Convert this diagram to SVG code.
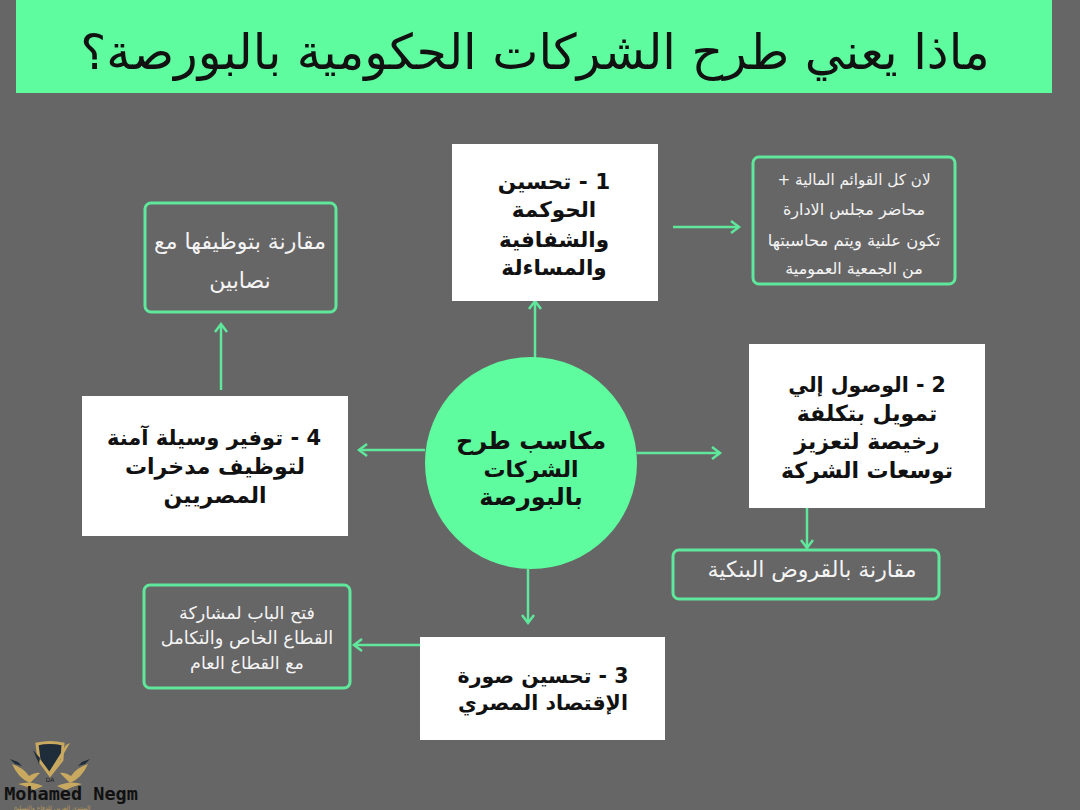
<svg xmlns="http://www.w3.org/2000/svg" width="1080" height="810" viewBox="0 0 1080 810">
<style>
text{font-family:"DejaVu Sans","Noto Sans",sans-serif;text-anchor:middle;direction:rtl}
.w{fill:#fff}
.o{fill:none;stroke:#5fe89c;stroke-width:3}
.b{font-weight:700;fill:#111}
.l{font-size:22px;fill:#f4f4f4}
.s{fill:#f4f4f4}
.c{fill:none;stroke:#5fe89c;stroke-width:2.5}
.g{fill:#c9a860}
</style>
<defs><marker id="a" markerWidth="14" markerHeight="14" refX="11" refY="7" orient="auto" markerUnits="userSpaceOnUse"><path d="M3 1L11 7L3 13" fill="none" stroke="#5fe89c" stroke-width="2.5"/></marker></defs>
<rect width="1080" height="810" fill="#666666"/>
<g id="title"><rect x="16" y="0" width="1036" height="93" fill="#5ffb9f"/><text x="535" y="69" font-size="49" fill="#111">ماذا يعني طرح الشركات الحكومية بالبورصة؟</text></g>
<g id="connectors">
<path class="c" marker-end="url(#a)" d="M535 358V301"/>
<path class="c" marker-end="url(#a)" d="M673 227H739"/>
<path class="c" marker-end="url(#a)" d="M637 453H720"/>
<path class="c" marker-end="url(#a)" d="M807 508V548"/>
<path class="c" marker-end="url(#a)" d="M528 569V623"/>
<path class="c" marker-end="url(#a)" d="M420 645H354"/>
<path class="c" marker-end="url(#a)" d="M425 450H359"/>
<path class="c" marker-end="url(#a)" d="M221 390V324"/>
</g>
<g id="center"><circle cx="531" cy="463" r="106" fill="#5ffb9f"/><text class="b" font-size="24" x="531" y="449">مكاسب طرح</text><text class="b" font-size="22" x="531" y="477">الشركات</text><text class="b" font-size="24" x="531" y="505">بالبورصة</text></g>
<g id="n1"><rect class="w" x="452" y="144" width="206" height="157"/><text class="b" font-size="21.5" x="554" y="189">1 - تحسين</text><text class="b" font-size="21.5" x="554" y="217">الحوكمة</text><text class="b" font-size="21.5" x="554" y="247">والشفافية</text><text class="b" font-size="21.5" x="554" y="275">والمساءلة</text></g>
<g id="n2"><rect class="w" x="749" y="344" width="236" height="164"/><text class="b" font-size="20.5" x="867" y="392">2 - الوصول إلي</text><text class="b" font-size="22" x="867" y="421">تمويل بتكلفة</text><text class="b" font-size="22" x="867" y="449">رخيصة لتعزيز</text><text class="b" font-size="22" x="867" y="478">توسعات الشركة</text></g>
<g id="n3"><rect class="w" x="420" y="637" width="245" height="103"/><text class="b" font-size="20.5" x="543" y="683">3 - تحسين صورة</text><text class="b" font-size="20.5" x="543" y="710">الإقتصاد المصري</text></g>
<g id="n4"><rect class="w" x="82" y="396" width="266" height="140"/><text class="b" font-size="21" x="214" y="445">4 - توفير وسيلة آمنة</text><text class="b" font-size="22" x="215" y="474">لتوظيف مدخرات</text><text class="b" font-size="22" x="215" y="503">المصريين</text></g>
<g id="note1"><rect class="o" x="753" y="157" width="202" height="127" rx="6"/><text class="s" font-size="15.2" x="854" y="185">لان كل القوائم المالية +</text><text class="s" font-size="16" x="854" y="215">محاضر مجلس الادارة</text><text class="s" font-size="16.4" x="854" y="246">تكون علنية ويتم محاسبتها</text><text class="s" font-size="16" x="854" y="274">من الجمعية العمومية</text></g>
<g id="note2"><rect class="o" x="673" y="550" width="266" height="49" rx="6"/><text class="l" x="812" y="577">مقارنة بالقروض البنكية</text></g>
<g id="note3"><rect class="o" x="144" y="585" width="206" height="103" rx="6"/><text class="s" font-size="17.5" x="247" y="619">فتح الباب لمشاركة</text><text class="s" font-size="17.8" x="247" y="644">القطاع الخاص والتكامل</text><text class="s" font-size="17.5" x="247" y="669">مع القطاع العام</text></g>
<g id="note4"><rect class="o" x="145" y="203" width="191" height="109" rx="6"/><text class="l" x="240" y="249">مقارنة بتوظيفها مع</text><text class="l" x="240" y="288">نصابين</text></g>
<g id="logo">
<path d="M37 744Q50 741 63 744L62 760L50 775L39 760Z" fill="#1f2d3a" stroke="#c9a860" stroke-width="3"/>
<path class="g" d="M66 745L70 743L52 774L49 772Z"/>
<path fill="#1f2d3a" d="M33 750L40 758L39 764ZM10 759L18 762L22 766L15 764ZM90 759L82 762L78 766L85 764Z"/>
<path class="g" d="M12 764Q24 768 29 776Q36 772 40 773L30 783Q18 778 12 764ZM88 764Q76 768 71 776Q64 772 60 773L70 783Q82 778 88 764Z"/>
<path class="g" d="M18 784Q30 780 43 786L34 790Q26 786 18 784ZM82 784Q70 780 57 786L66 790Q74 786 82 784Z"/>
<text x="50" y="781.5" font-size="6" fill="#1a1a1a" style="direction:ltr">DA</text>
<text x="71" y="800" font-size="18.5" font-weight="700" style="direction:ltr;font-family:'DejaVu Sans Mono',monospace" fill="#111">Mohamed Negm</text>
<text x="52" y="809.5" font-size="6" fill="#b89a5a">المنتدى العربي للدفاع والتسليح</text>
</g>
</svg>
